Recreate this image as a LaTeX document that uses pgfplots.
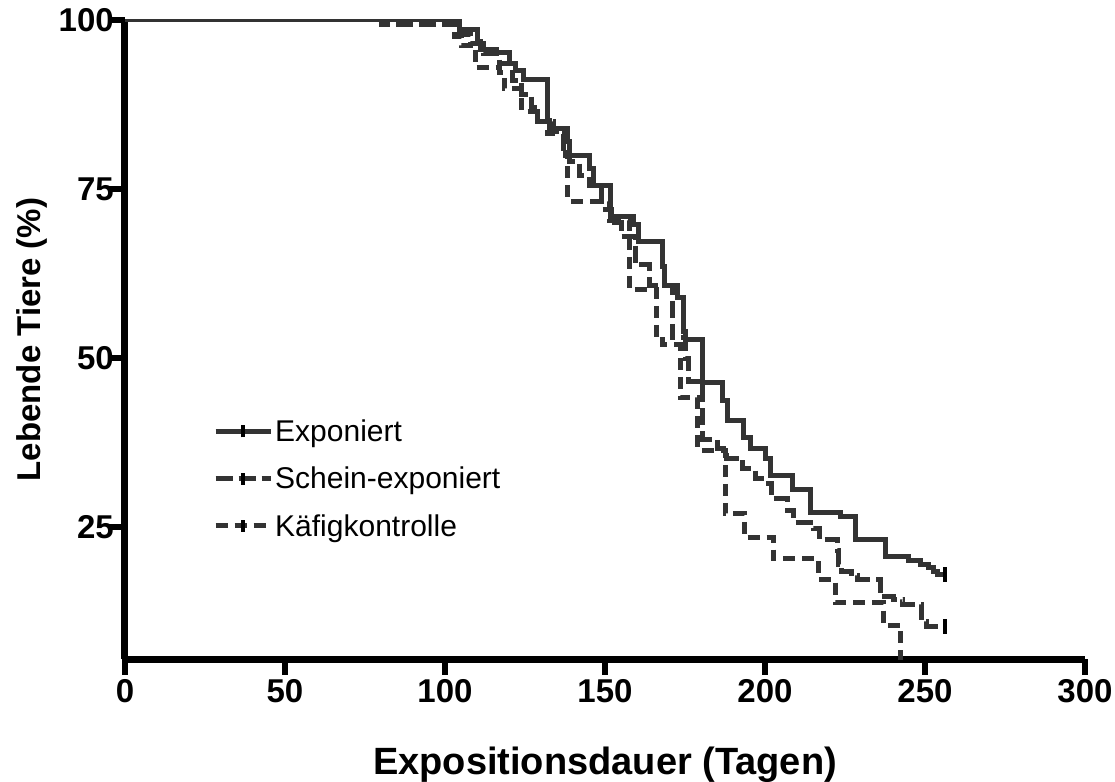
\documentclass[border=0pt]{standalone}
\usepackage{fontspec}
\setmainfont{Liberation Sans}
\usepackage{pgfplots}
\pgfplotsset{compat=1.18}
\definecolor{curve}{HTML}{333333}

\begin{document}
\begin{tikzpicture}
\path[use as bounding box] (-125pt,-122pt) rectangle (990pt,659pt);
\begin{axis}[
  at={(0pt,0pt)}, anchor=south west,
  scale only axis, width=960pt, height=639pt,
  xmin=0, xmax=300, ymin=5.5, ymax=100,
  axis x line=bottom, axis y line=left,
  axis line style={-, line width=7pt, black},
  xtick={0,50,100,150,200,250,300}, ytick={25,50,75,100},
  tick align=outside, major tick length=16pt,
  every tick/.style={black, line width=6pt},
  tick label style={font=\fontsize{33}{33}\selectfont\bfseries},
  yticklabel style={inner sep=1pt, xshift=6pt},
  xticklabel style={inner sep=4pt},
  /pgf/number format/assume math mode=true,
  xlabel={Expositionsdauer (Tagen)}, ylabel={Lebende Tiere (\%)},
  xlabel style={font=\fontsize{38}{38}\selectfont\bfseries, at={(axis description cs:0.5,-0.166)}, anchor=center},
  ylabel style={font=\fontsize{33}{33}\selectfont\bfseries, at={(axis description cs:-0.097,0.5)}, anchor=center},
  no markers,
  legend style={at={(axis cs:27.5,41.2)}, anchor=north west, draw=none, fill=none,
    font=\fontsize{30}{32}\selectfont, row sep=20pt, inner sep=0pt},
  legend cell align=left,
  legend image code/.code={\draw[#1,line width=5pt] (0pt,0pt) -- (55pt,0pt);
    \draw[black, line width=4pt, solid] (27.5pt,-6pt) -- (27.5pt,6pt);},
]
% Exponiert
\addplot[const plot, line width=5pt, curve, line cap=butt] coordinates {
(0,100)(104.5,98.6)(110,96.8)(111,95.6)(116,95.2)(120,93.6)(122,92.6)(124.5,91.2)
(131.9,85.2)(132.5,84)(138.3,82)(138.8,80)(145,78)(146.5,75.5)(151.7,71)(159,69.7)
(160.5,67.2)(168,63.5)(168.5,60.7)(172.7,58.9)(174.5,53.9)(175.2,52.8)(180.5,46.4)
(186.7,43.8)(188.3,40.8)(193.3,38.3)(195.5,36.7)(200.2,35.2)(201.7,32.6)(208.6,30.5)
(214.3,27.1)(223.6,26.5)(228.3,23.1)(237.7,20.6)(244.9,20.1)(248.7,19.5)(251,19.0)
(252.5,18.5)(254,18.0)(256.5,18.0)};
\addlegendentry{Exponiert}
% Schein-exponiert
\addplot[const plot, line width=5pt, curve, line cap=butt, dash pattern=on 17pt off 6pt] coordinates {
(0,100)(80,99.3)(104,97.8)(108,96.5)(112,95)(117,93.5)(121,91)(124,89)(127,87)(129,85)
(134,83.5)(137,81)(139,79)(142,77)(145,75.5)(149,72)(152,70)(155,68)(159.5,63.8)
(164,60.7)(171,53)(175,50)(176,46.6)(180.5,38)(185,36.7)(188,35.2)(193,33.6)(197,32.2)
(199,31.5)(202,29.3)(207,27.5)(209,25.7)(215,24.8)(217,23.2)(222.7,21.5)(223,19.5)
(224,18.4)(227,17.8)(229,17.2)(236,14.7)(240,14.3)(243,13.6)(249,11)(250.5,10.3)(256.5,10.3)};
\addlegendentry{Schein-exponiert}
% Kaefigkontrolle
\addplot[const plot, line width=5pt, curve, line cap=butt, dash pattern=on 12pt off 7pt] coordinates {
(0,100)(103,97.5)(105,96.3)(109.5,93)(117,92.3)(118.5,89.8)(124,86.5)(132,83.2)(137.5,80)
(138.3,73.2)(151.5,70.4)(157.5,60.2)(166,53.1)(168,52)(173.5,44.1)(179,36.4)(187.5,27)
(193.5,23.5)(202.6,20.3)(216.8,17.2)(222,13.8)(237,10.5)(242.4,0)(242.5,0)};
\addlegendentry{Käfigkontrolle}
% censor ticks at the ends of the two surviving curves
\addplot[black, line width=4.5pt, forget plot] coordinates {(256.3,16.9)(256.3,19.1)};
\addplot[black, line width=4.5pt, forget plot] coordinates {(256.3,9.2)(256.3,11.4)};
\end{axis}
\end{tikzpicture}
\end{document}
